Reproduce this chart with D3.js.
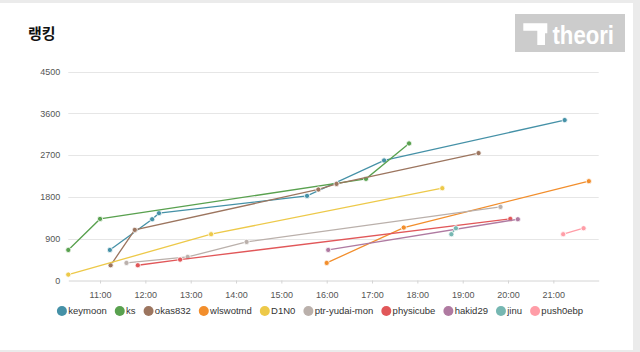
<!DOCTYPE html>
<html>
<head>
<meta charset="utf-8">
<script src="https://cdn.jsdelivr.net/npm/d3@7"></script>
<style>
  html, body { margin: 0; padding: 0; background: #ebebeb; }
  svg { display: block; }
</style>
</head>
<body>
<svg id="chart"></svg>
<script>
// Ranking data per player: [time, score]
const players = ['keymoon', 'ks', 'okas832', 'wlswotmd', 'D1N0', 'ptr-yudai-mon', 'physicube', 'hakid29', 'jinu', 'push0ebp'];
const playerColors = ['#4591a7', '#59a14f', '#9c755f', '#f28e2c', '#edc949', '#bab0ab', '#e15759', '#af7aa1', '#76b7b2', '#ff9da7'];

const keymoon = [['11:13', 654], ['12:09', 1316], ['12:18', 1446], ['15:34', 1819], ['17:16', 2583], ['21:15', 3453]];
const ks = [['10:18', 654], ['11:00', 1323], ['16:52', 2186], ['17:49', 2950]];
const okas832 = [['11:14', 324], ['11:46', 1086], ['15:49', 1957], ['16:13', 2078], ['19:21', 2741]];
const wlswotmd = [['16:00', 374], ['17:42', 1137], ['21:47', 2136]];
const d1n0 = [['10:18', 123], ['13:27', 993], ['18:33', 1985]];
const ptrYudaiMon = [['11:35', 374], ['12:56', 503], ['14:14', 827], ['19:50', 1582]];
const physicube = [['11:50', 324], ['12:46', 446], ['20:03', 1323]];
const hakid29 = [['16:02', 654], ['20:13', 1316]];
const jinu = [['18:45', 993], ['18:51', 1122]];
const push0ebp = [['21:13', 993], ['21:40', 1122]];

const seriesData = [keymoon, ks, okas832, wlswotmd, d1n0, ptrYudaiMon, physicube, hakid29, jinu, push0ebp];

const xDomain = ['10:18', '22:00'];
const xTickLabels = ['11:00', '12:00', '13:00', '14:00', '15:00', '16:00', '17:00', '18:00', '19:00', '20:00', '21:00'];
const yTicks = [0, 900, 1800, 2700, 3600, 4500];

const width = 640;
const height = 352;
const plot = { left: 68.3, right: 598.7, top: 71.5, bottom: 280.3 };

const parseTime = d3.timeParse('%H:%M');

const svg = d3.select('#chart')
  .attr('width', width)
  .attr('height', height);

// Card background
svg.append('rect')
  .attr('x', 0)
  .attr('y', 3)
  .attr('width', 633)
  .attr('height', 347)
  .attr('fill', '#fff');

// Title
svg.append('text')
  .attr('x', 28)
  .attr('y', 39)
  .attr('font-family', '"Noto Sans CJK KR", sans-serif')
  .attr('font-weight', 'bold')
  .attr('font-size', 15)
  .attr('fill', '#111')
  .text('랭킹');

// Logo
const logo = svg.append('g').attr('class', 'logo');
logo.append('rect')
  .attr('x', 515)
  .attr('y', 14)
  .attr('width', 110)
  .attr('height', 38)
  .attr('fill', '#cccccc');
logo.append('path')
  .attr('d', 'M523.3,23.3 H547.3 V33.3 H545 V45 H537.3 V30.7 H523.3 Z')
  .attr('fill', '#fff');
logo.append('text')
  .attr('x', 552.5)
  .attr('y', 43.5)
  .attr('font-family', '"Liberation Sans", Arial, sans-serif')
  .attr('font-weight', 'bold')
  .attr('font-size', 26)
  .attr('textLength', 61.5)
  .attr('lengthAdjust', 'spacingAndGlyphs')
  .attr('fill', '#fff')
  .text('theori');

// Scales
const x = d3.scaleTime()
  .domain(xDomain.map(parseTime))
  .range([plot.left, plot.right]);

const y = d3.scaleLinear()
  .domain([0, 4500])
  .range([plot.bottom, plot.top]);

const color = d3.scaleOrdinal()
  .domain(players)
  .range(playerColors);

// Grid lines
const grid = svg.append('g').attr('class', 'grid');
grid.selectAll('line')
  .data(yTicks.filter(d => d > 0))
  .join('line')
  .attr('x1', plot.left)
  .attr('x2', plot.right)
  .attr('y1', d => Math.round(y(d)) + 0.5)
  .attr('y2', d => Math.round(y(d)) + 0.5)
  .attr('stroke', '#e6e6e6')
  .attr('stroke-width', 1);

// Y axis (labels only)
const yAxis = svg.append('g')
  .attr('transform', `translate(${plot.left},0)`)
  .call(d3.axisLeft(y).tickValues(yTicks).tickFormat(d3.format('d')).tickSize(0).tickPadding(8));
yAxis.select('.domain').remove();
yAxis.selectAll('text')
  .attr('font-family', '"Liberation Sans", Arial, sans-serif')
  .attr('font-size', 9)
  .attr('fill', '#555');

// X axis
const xAxis = svg.append('g')
  .attr('transform', `translate(0,${Math.round(plot.bottom) + 0.5})`)
  .call(d3.axisBottom(x)
    .tickValues(xTickLabels.map(parseTime))
    .tickFormat(d3.timeFormat('%H:%M'))
    .tickSizeInner(3)
    .tickSizeOuter(0)
    .tickPadding(8));
xAxis.select('.domain').attr('stroke', '#d4d4d4');
xAxis.selectAll('.tick line').attr('stroke', '#d4d4d4');
xAxis.selectAll('text')
  .attr('font-family', '"Liberation Sans", Arial, sans-serif')
  .attr('font-size', 9)
  .attr('fill', '#555');

// Lines and points
const line = d3.line()
  .x(d => x(parseTime(d[0])))
  .y(d => y(d[1]));

const seriesGroup = svg.append('g').attr('class', 'series');
players.forEach((name, i) => {
  const g = seriesGroup.append('g').attr('class', `series-${i}`);
  g.append('path')
    .datum(seriesData[i])
    .attr('d', line)
    .attr('fill', 'none')
    .attr('stroke', color(name))
    .attr('stroke-width', 1.3);
  g.selectAll('circle')
    .data(seriesData[i])
    .join('circle')
    .attr('cx', d => x(parseTime(d[0])))
    .attr('cy', d => y(d[1]))
    .attr('r', 2.6)
    .attr('fill', color(name))
    .attr('stroke', '#fff')
    .attr('stroke-width', 0.8);
});

// Legend, centered under the chart
const legend = svg.append('g').attr('class', 'legend');
const items = legend.selectAll('g')
  .data(players)
  .join('g');

items.append('circle')
  .attr('r', 5)
  .attr('cy', 311)
  .attr('fill', d => color(d));

items.append('text')
  .attr('y', 311)
  .attr('dy', '0.35em')
  .attr('font-family', '"Liberation Sans", Arial, sans-serif')
  .attr('font-size', 9.5)
  .attr('fill', '#333')
  .text(d => d);

const itemWidths = [];
items.select('text').each(function() {
  itemWidths.push(this.getComputedTextLength());
});

const circleToText = 6.3;
const textToNext = 13;
let cursor = 0;
const offsets = itemWidths.map(w => {
  const start = cursor;
  cursor += circleToText + w + textToNext;
  return start;
});
const totalWidth = cursor - textToNext + 5;
const startX = width / 2 - totalWidth / 2 + 5;

items.select('circle').attr('cx', (d, i) => startX + offsets[i]);
items.select('text').attr('x', (d, i) => startX + offsets[i] + circleToText);
</script>
</body>
</html>
